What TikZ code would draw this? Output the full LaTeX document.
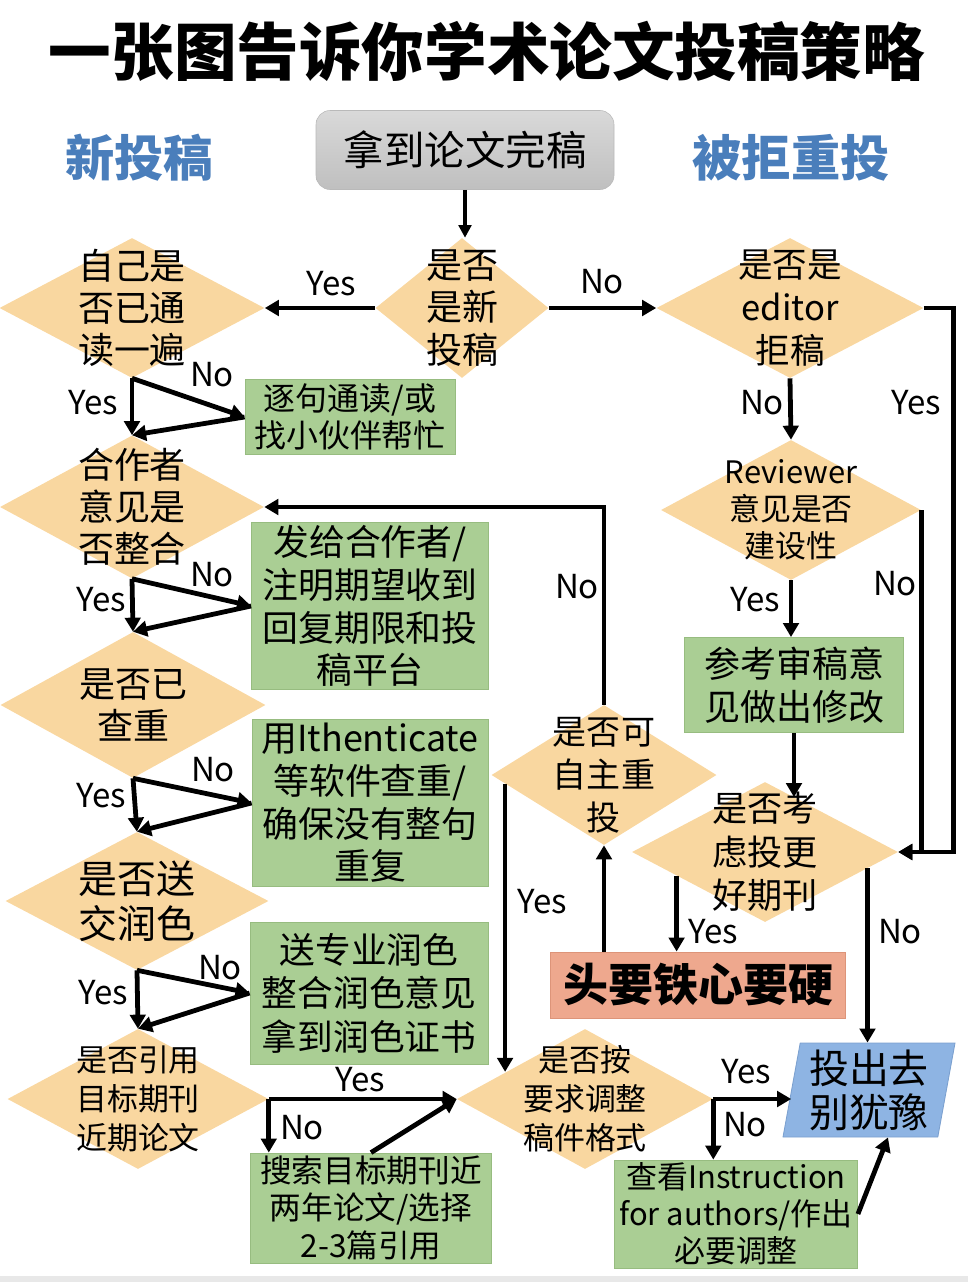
\documentclass[tikz,border=0pt]{standalone}
\usepackage{fontspec}
\setmainfont{Noto Sans CJK SC}
\usepackage{tikz}
\usetikzlibrary{arrows.meta,positioning,shapes.geometric,calc}
\definecolor{askfill}{HTML}{F9D7A0}
\definecolor{stepfill}{HTML}{AACE94}
\definecolor{stepline}{HTML}{97BC80}
\definecolor{hardfill}{HTML}{EEA88E}
\definecolor{hardline}{HTML}{DD9479}
\definecolor{sendfill}{HTML}{8EB4E3}
\definecolor{sendline}{HTML}{7BA0CF}
\definecolor{headblue}{HTML}{4A7EBB}
\newlength\pu
\setlength\pu{0.025cm}
\newcommand\fs[2]{\fontsize{#1}{#2}\selectfont}
\tikzset{
  ask/.style={diamond,fill=askfill,inner sep=0pt,minimum width=265*\pu,minimum height=140*\pu},
  asktext/.style={align=center,inner sep=0pt,font=\fs{25.6}{30}},
  todo/.style={draw=stepline,line width=.6pt,fill=stepfill,align=center,inner sep=0pt,font=\fs{25.5}{30.4}},
  yn/.style={inner sep=0pt,font=\fs{23.5}{28}},
  link/.style={-{Triangle[length=10pt,width=11pt]},line width=3.4pt},
  thinlink/.style={-{Triangle[length=9pt,width=9pt]},line width=2.4pt},
  head/.style={inner sep=0pt,font=\bfseries\fs{35}{40},text=headblue},
}

\begin{document}
\begin{tikzpicture}[x=0.025cm,y=-0.025cm]
  \useasboundingbox (0,0) rectangle (968,1282);
  \fill[gray!18] (0,1276) rectangle (968,1282);
  \node[inner sep=0pt,font=\bfseries\fs{44.5}{50}] (title) at (487,51) {一张图告诉你学术论文投稿策略};
  \node[head] (hnew) at (139,158) {新投稿};
  \node[head] (hre) at (791,158) {被拒重投};
  \node[rounded corners=10pt,top color=gray!30,bottom color=gray!50,draw=gray!55,minimum width=298*\pu,minimum height=79*\pu,font=\fs{28.8}{32}] (start) at (465,150) {拿到论文完稿};

  \node[ask,minimum width=173*\pu,label={[asktext]center:是否\\是新\\投稿}] (q0) at (462,308) {};
  \node[ask,label={[asktext]center:自己是\\否已通\\读一遍}] (q1) at (132,308) {};
  \node[ask,minimum width=267*\pu,label={[asktext,font=\fs{24.6}{30.5}]center:是否是\\editor\\拒稿}] (q2) at (790,308) {};
  \node[ask,minimum width=264*\pu,minimum height=143*\pu,label={[asktext]center:合作者\\意见是\\否整合}] (q3) at (132,507) {};
  \node[ask,minimum height=146*\pu,label={[asktext]center:是否已\\查重}] (q4) at (133,705) {};
  \node[ask,minimum width=263*\pu,minimum height=138*\pu,label={[asktext,font=\fs{27.7}{32}]center:是否送\\交润色}] (q5) at (137,901) {};
  \node[ask,minimum width=261*\pu,label={[asktext,font=\fs{22}{27.7}]center:是否引用\\目标期刊\\近期论文}] (q6) at (138,1099) {};
  \node[ask,minimum width=260*\pu,label={[asktext,font=\fs{22}{26.3}]center:Reviewer\\意见是否\\建设性}] (q7) at (791,510) {};
  \node[ask,minimum width=225*\pu,label={[asktext,font=\fs{24.2}{30.5}]center:是否可\\自主重\\投}] (q8) at (604,775) {};
  \node[ask,minimum width=266*\pu,label={[asktext,font=\fs{25}{31}]center:是否考\\虑投更\\好期刊}] (q9) at (765,852) {};
  \node[ask,minimum width=256*\pu,label={[asktext,font=\fs{22}{27.7}]center:是否按\\要求调整\\稿件格式}] (q10) at (585,1099) {};

  \node[todo,minimum width=210*\pu,minimum height=75*\pu,font=\fs{22.7}{26.3}] (s1) at (350,417) {逐句通读/或\\找小伙伴帮忙};
  \node[todo,minimum width=237*\pu,minimum height=167*\pu] (s2) at (370,606) {发给合作者/\\注明期望收到\\回复期限和投\\稿平台};
  \node[todo,minimum width=236*\pu,minimum height=167*\pu] (s3) at (370,803) {用Ithenticate\\等软件查重/\\确保没有整句\\重复};
  \node[todo,minimum width=238*\pu,minimum height=142*\pu,font=\fs{25.4}{31}] (s4) at (369,993) {送专业润色\\整合润色意见\\拿到润色证书};
  \node[todo,minimum width=241*\pu,minimum height=110*\pu,font=\fs{22.5}{27}] (s5) at (371,1208) {搜索目标期刊近\\两年论文/选择\\2-3篇引用};
  \node[todo,minimum width=219*\pu,minimum height=95*\pu,font=\fs{25.6}{30.6}] (s6) at (794,685) {参考审稿意\\见做出修改};
  \node[todo,minimum width=243*\pu,minimum height=108*\pu,font=\fs{22}{26.3}] (s7) at (736,1214) {查看Instruction\\for authors/作出\\必要调整};
  \node[draw=hardline,fill=hardfill,line width=.6pt,minimum width=295*\pu,minimum height=66*\pu,font=\bfseries\fs{32}{36}] (hard) at (698,985) {头要铁心要硬};
  \node[trapezium,trapezium left angle=78,trapezium right angle=102,trapezium stretches body,draw=sendline,fill=sendfill,line width=.6pt,inner sep=0pt,minimum width=172*\pu,minimum height=94*\pu,align=center,font=\fs{28.4}{31.3}] (send) at (869,1090) {投出去\\别犹豫};

  \draw[thinlink] (start.south) -- (start.south |- q0.north);
  \draw[link] (q0.west) -- (q1.east);
  \draw[link] (q0.east) -- (q2.west);
  \draw[link] (q1.south) -- (q3.north);
  \draw[link] (q1.south) -- (s1.west);
  \draw[link] (s1.west) -- (q3.north);
  \draw[link] (q3.south) -- (q4.north);
  \draw[link] (q3.south) -- (s2.west);
  \draw[link] (s2.west) -- (q4.north);
  \draw[link] (q4.south) -- (q5.north);
  \draw[link] (q4.south) -- (s3.west);
  \draw[link] (s3.west) -- (q5.north);
  \draw[link] (q5.south) -- (q6.north);
  \draw[link] (q5.south) -- (s4.west);
  \draw[link] (s4.west) -- (q6.north);
  \draw[link] (q6.east) -- (q10.west);
  \draw[link] (q6.east) -- (q6.east |- s5.north);
  \draw[link] (s5.north) -- (q10.west);
  \draw[link] (q10.east) -- (q10.east -| send.west);
  \draw[link] (q10.east) -- (q10.east |- s7.north);
  \draw[link] (s7.east) -- ($(send.south)!.4!(send.south east)$);
  \draw[link] (q2.east) -- ++(30,0) |- (q9.east);
  \draw[link] (q7.east) |- (q9.east);
  \draw[link] (q2.south) -- (q7.north);
  \draw[link] (q7.south) -- (q7.south |- s6.north);
  \draw[link] (s6.south) -- (s6.south |- q9.62);
  \draw[link] (q9.195) -- (q9.195 |- hard.north);
  \draw[link] (q9.351) -- (q9.351 |- send.north);
  \draw[link] (q8.south |- hard.north) -- (q8.south);
  \draw[link] (q8.north) |- (q3.east);
  \draw[link] (q8.185) -- (q8.185 |- q10.161);

  \node[yn] (y1) at (331,284) {Yes};
  \node[yn] (n1) at (602,282) {No};
  \node[yn] (n2) at (212,375) {No};
  \node[yn] (y2) at (93,403) {Yes};
  \node[yn] (n3) at (762,403) {No};
  \node[yn] (y3) at (916,403) {Yes};
  \node[yn] (n4) at (212,575) {No};
  \node[yn] (y4) at (101,600) {Yes};
  \node[yn] (n5) at (577,587) {No};
  \node[yn] (y5) at (755,600) {Yes};
  \node[yn] (n6) at (895,584) {No};
  \node[yn] (n7) at (213,770) {No};
  \node[yn] (y6) at (101,796) {Yes};
  \node[yn] (y7) at (542,902) {Yes};
  \node[yn] (n8) at (220,968) {No};
  \node[yn] (y8) at (103,993) {Yes};
  \node[yn] (y9) at (713,932) {Yes};
  \node[yn] (n9) at (900,932) {No};
  \node[yn] (y10) at (360,1080) {Yes};
  \node[yn] (n10) at (302,1128) {No};
  \node[yn] (y11) at (746,1072) {Yes};
  \node[yn] (n11) at (745,1125) {No};
\end{tikzpicture}
\end{document}
